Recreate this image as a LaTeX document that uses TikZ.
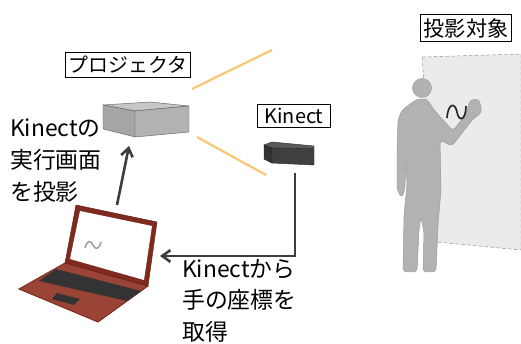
\documentclass[tikz,border=0pt]{standalone}
\usepackage{fontspec}
\newfontfamily\jp{Noto Sans CJK JP}
\usetikzlibrary{arrows.meta}
\definecolor{beamcol}{HTML}{F8C66C}
\definecolor{lapred}{HTML}{7E2A1E}
\definecolor{lapbase}{HTML}{9A4436}
\definecolor{linkcol}{HTML}{3C3C3C}
\tikzset{
	label box/.style={draw, thick, fill=white, inner sep=3pt, font=\jp\fontsize{17}{20}\selectfont}, % boxed captions
	note/.style={align=left, anchor=north west, inner sep=0pt, font=\jp\fontsize{19.5}{27}\selectfont}, % free text
	beam/.style={draw=beamcol, line width=1.8pt}, % projector light
	link/.style={draw=linkcol, line width=2.2pt, -{Straight Barb[length=7pt,width=10pt]}}, % data flow
}

\begin{document}
\begin{tikzpicture}[x=0.03cm,y=-0.03cm]
	\useasboundingbox[fill=white] (0,0) rectangle (521,344);

	% wall and person
	\filldraw[fill=black!8, draw=black!45, densely dashed] (422,57) -- (521,54) -- (521,250) -- (436,242) -- cycle;
	\filldraw[fill=black!30, draw=black!40, rounded corners=3pt]
		(417,99) -- (402,110) -- (398,120) -- (397,150) -- (397,190) -- (402,198) -- (405,188)
		-- (406,160) -- (407,185) -- (404,215) -- (403,272) -- (417,272) -- (419,230) -- (421,217)
		-- (424,232) -- (423,272) -- (436,272) -- (438,225) -- (441,190) -- (440,140) -- (452,146)
		-- (472,120) -- (482,112) -- (479,99) -- (470,100) -- (466,114) -- (453,131) -- (434,110)
		-- (427,99) -- cycle;
	\filldraw[fill=black!30, draw=black!40] (422,88) circle[radius=9.5];
	\draw[black!85, line width=1.4pt] (447,118) .. controls (448,103) and (455,102) .. (457,112)
		.. controls (459,123) and (466,120) .. (466,106);

	% projector
	\filldraw[fill=black!22, draw=black!60] (103,105) -- (150,102) -- (189,106) -- (135,111) -- cycle;
	\filldraw[fill=black!35, draw=black!60] (103,105) -- (135,111) -- (135,137) -- (103,129) -- cycle;
	\filldraw[fill=black!30, draw=black!60] (135,111) -- (189,106) -- (189,132) -- (135,137) -- cycle;

	% kinect
	\filldraw[fill=black!65, draw=black!80] (264,145) -- (272,142) -- (314,146) -- (314,149) -- (272,148) -- cycle;
	\filldraw[fill=black!80, draw=black!85] (264,145) -- (272,148) -- (272,163) -- (264,159) -- cycle;
	\filldraw[fill=black!75, draw=black!85] (272,148) -- (314,149) -- (314,165) -- (272,163) -- cycle;

	% laptop
	\filldraw[fill=lapbase, draw=lapred, thick] (65,263) -- (148,286) -- (98,322) -- (19,289) -- cycle;
	\fill[black!80] (56,269) -- (141,291) -- (127,301) -- (39,281) -- cycle;
	\fill[black!80] (57,293) -- (80,299) -- (74,305) -- (52,299) -- cycle;
	\filldraw[fill=lapred, draw=lapred!80!black] (76,205) -- (157,222) -- (148,286) -- (65,263) -- cycle;
	\fill[white] (80,211) -- (152,226) -- (144,280) -- (70,259) -- cycle;
	\draw[black!40, line width=1.2pt] (85,248) .. controls (87,240) and (91,240) .. (93,245)
		.. controls (95,250) and (99,250) .. (101,242);

	% connector ends
	\coordinate (projector beam1) at (192,89);
	\coordinate (projector beam2) at (197,137);
	\coordinate (wall beam1) at (272,50);
	\coordinate (wall beam2) at (266,175);
	\coordinate (projector in) at (129,146);
	\coordinate (laptop top) at (117,205);
	\coordinate (kinect out) at (295,173);
	\coordinate (laptop in) at (160,256);

	\draw[beam] (projector beam1) -- (wall beam1);
	\draw[beam] (projector beam2) -- (wall beam2);
	\draw[link] (laptop top) -- (projector in);
	\draw[link] (kinect out) |- (laptop in);

	% captions
	\node[label box] (projector) at (128,65) {プロジェクタ};
	\node[label box, inner xsep=6pt] (kinect) at (294,116) {Kinect};
	\node[label box, font=\jp\fontsize{18}{20}\selectfont] (target) at (466,28) {投影対象};
	\node[note] (screen note) at (10,119) {Kinectの\\実行画面\\を投影};
	\node[note] (hand note) at (182,259) {Kinectから\\手の座標を\\取得};
\end{tikzpicture}
\end{document}
